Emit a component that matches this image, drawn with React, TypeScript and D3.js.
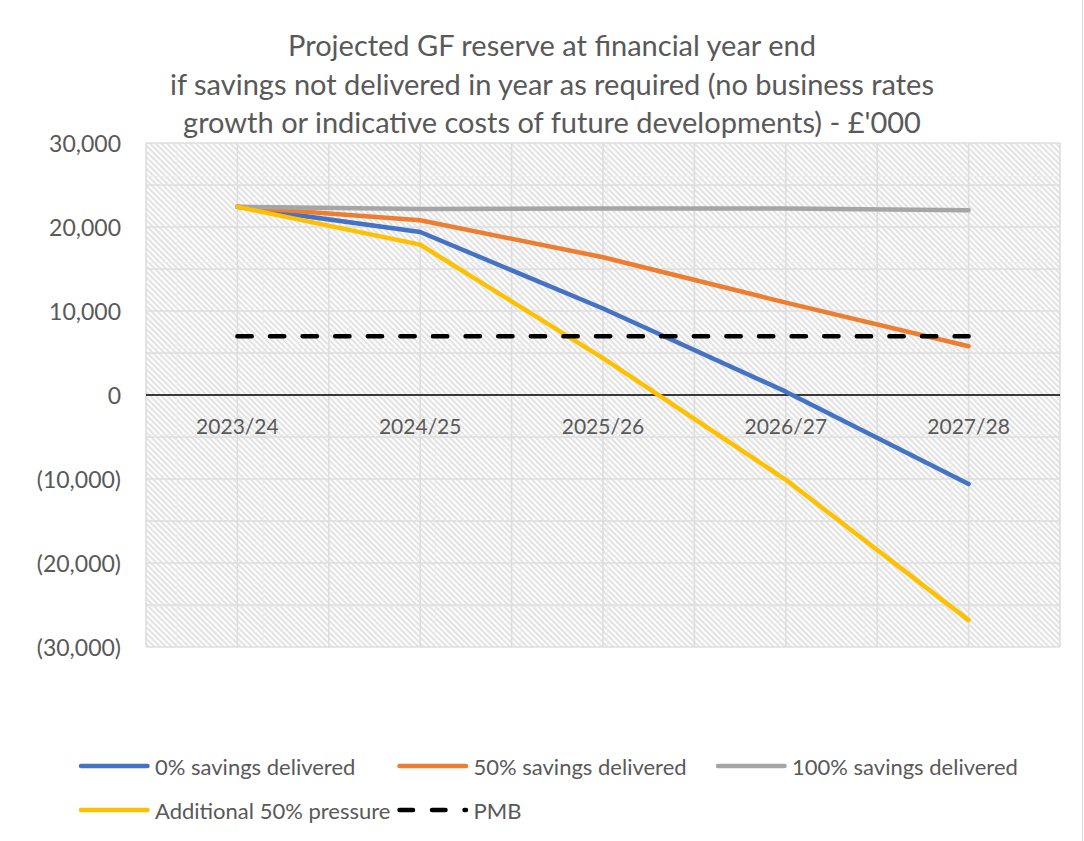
import React from 'react';
import * as d3 from 'd3';

const categories = ['2023/24', '2024/25', '2025/26', '2026/27', '2027/28'];
const savings0 = [22400, 19400, 10300, 400, -10600];
const savings50 = [22400, 20800, 16400, 11000, 5800];
const savings100 = [22400, 22150, 22200, 22200, 22000];
const pressure50 = [22400, 17900, 4400, -10100, -26800];
const pmb = [7000, 7000, 7000, 7000, 7000];
const yTicks = [30000, 20000, 10000, 0, -10000, -20000, -30000];
const yGridStep = 5000;
const titleLines = [
  'Projected GF reserve at financial year end',
  'if savings not delivered in year as required (no business rates',
  "growth or indicative costs of future developments) - £'000",
];

const seriesNames = ['0% savings delivered', '50% savings delivered', '100% savings delivered', 'Additional 50% pressure', 'PMB'];
const seriesValues = [savings0, savings50, savings100, pressure50, pmb];
const seriesColors = ['#4472C4', '#ED7D31', '#A5A5A5', '#FFC000', '#000000'];
const seriesDashed = [false, false, false, false, true];

const W = 1084;
const H = 841;
const M = { left: 146, right: 1060, top: 143, bottom: 647 };
const FONT = 'Lato, "Open Sans", sans-serif';
const TEXT = '#595959';

export default function App() {
  const x = d3.scaleBand<string>().domain(categories).range([M.left, M.right]).padding(0);
  const bw = x.bandwidth();
  const cx = (c: string) => (x(c) as number) + bw / 2;
  const y = d3.scaleLinear().domain([-30000, 30000]).range([M.bottom, M.top]);
  const fmt = d3.format(',');
  const label = (v: number) => (v < 0 ? `(${fmt(-v)})` : fmt(v));

  const vGrid: number[] = [];
  categories.forEach((c) => {
    vGrid.push(x(c) as number);
    vGrid.push(cx(c));
  });
  vGrid.push(M.right);
  const hGrid = d3.range(-30000, 30001, yGridStep);

  const line = d3
    .line<number>()
    .x((_, i) => cx(categories[i]))
    .y((d) => y(d));

  const tile = 86;
  const nStripes = 15;
  const p = tile / nStripes;
  const stripes = d3.range(-nStripes, nStripes + 1);

  const legendRows = [
    [0, 1, 2],
    [3, 4],
  ];
  const legendX0 = 79;
  const legendColW = 318.5;
  const legendY0 = 766;
  const legendRowH = 44;
  const legendLineLen = 68;

  return (
    <svg width={W} height={H} style={{ position: 'absolute', left: 0, top: 0, background: '#fff' }}>
      <defs>
        <pattern id="hatch" patternUnits="userSpaceOnUse" x={4.7} y={4} width={tile} height={tile}>
          <rect width={tile} height={tile} fill="#ffffff" />
          {stripes.map((k) => (
            <line key={k} x1={k * p} y1={0} x2={k * p + tile} y2={tile} stroke="#e1e1e1" strokeWidth={2} />
          ))}
          <line x1={0} y1={0} x2={tile} y2={0} stroke="#ebebeb" strokeWidth={1.5} />
          <line x1={0} y1={0} x2={0} y2={tile} stroke="#ebebeb" strokeWidth={1.5} />
        </pattern>
      </defs>
      <rect width={W} height={H} fill="#fff" />
      <line x1={W - 1.5} x2={W - 1.5} y1={0} y2={H} stroke="#d9d9d9" strokeWidth={1} />

      {titleLines.map((t, i) => (
        <text key={i} x={552} y={56 + i * 38.5} textAnchor="middle" fontFamily={FONT} fontSize={29} fill={TEXT}>
          {t}
        </text>
      ))}

      <rect x={M.left} y={M.top} width={M.right - M.left} height={M.bottom - M.top} fill="url(#hatch)" />
      {hGrid.map((v) => (
        <line key={'h' + v} x1={M.left} x2={M.right} y1={y(v)} y2={y(v)} stroke="#dedede" strokeWidth={1.6} />
      ))}
      {vGrid.map((v, i) => (
        <line key={'v' + i} x1={v} x2={v} y1={M.top} y2={M.bottom} stroke="#dedede" strokeWidth={1.6} />
      ))}
      <line x1={M.left} x2={M.right} y1={y(0)} y2={y(0)} stroke="#000" strokeWidth={1.5} />

      {yTicks.map((v) => (
        <text key={'yt' + v} x={121} y={y(v)} textAnchor="end" dominantBaseline="central" fontFamily={FONT} fontSize={23} fill={TEXT}>
          {label(v)}
        </text>
      ))}
      {categories.map((c) => (
        <text key={'xt' + c} x={cx(c)} y={y(0) + 30} textAnchor="middle" dominantBaseline="central" fontFamily={FONT} fontSize={21} fill={TEXT}>
          {c}
        </text>
      ))}

      {seriesValues.map((vals, i) => (
        <path
          key={'s' + i}
          d={line(vals) as string}
          fill="none"
          stroke={seriesColors[i]}
          strokeWidth={4.5}
          strokeLinejoin="round"
          strokeLinecap="round"
          strokeDasharray={seriesDashed[i] ? '14.3 18.3' : undefined}
        />
      ))}

      {legendRows.map((row, r) =>
        row.map((si, c) => {
          const lx = legendX0 + c * legendColW;
          const ly = legendY0 + r * legendRowH;
          return (
            <g key={'lg' + si}>
              <line
                x1={lx + 2}
                x2={lx + legendLineLen + 0.5}
                y1={ly}
                y2={ly}
                stroke={seriesColors[si]}
                strokeWidth={4.5}
                strokeLinecap="round"
                strokeDasharray={seriesDashed[si] ? '13.5 19' : undefined}
              />
              <text x={lx + legendLineLen + 8} y={ly} dominantBaseline="central" fontFamily={FONT} fontSize={22} fill={TEXT}>
                {seriesNames[si]}
              </text>
            </g>
          );
        })
      )}
    </svg>
  );
}
